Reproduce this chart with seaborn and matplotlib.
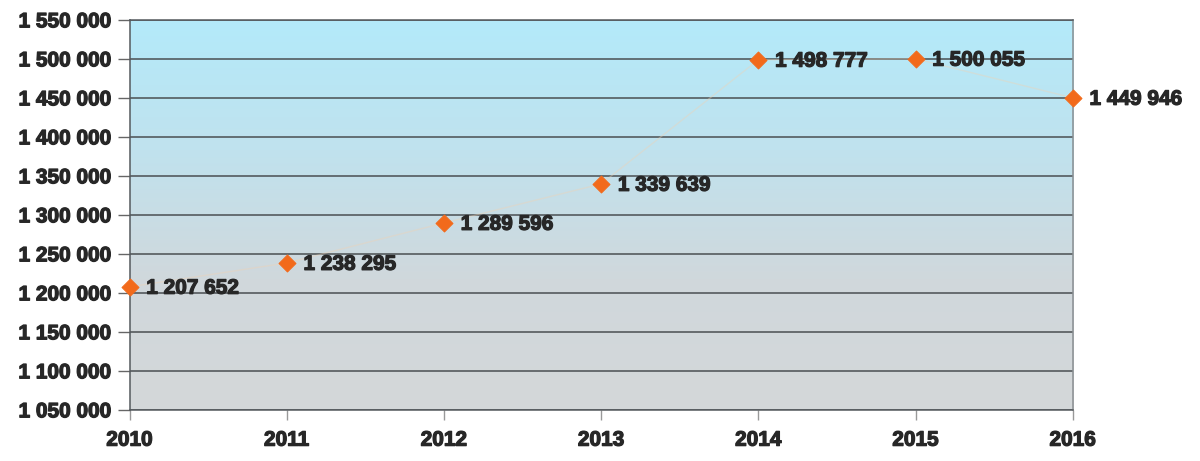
import numpy as np
import pandas as pd
import matplotlib
matplotlib.use("Agg")
import matplotlib.pyplot as plt
import matplotlib.patheffects as pe
import seaborn as sns
from matplotlib.colors import LinearSegmentedColormap

years = [2010, 2011, 2012, 2013, 2014, 2015, 2016]
values = [1207652, 1238295, 1289596, 1339639, 1498777, 1500055, 1449946]
y_ticks = [1050000, 1100000, 1150000, 1200000, 1250000, 1300000,
           1350000, 1400000, 1450000, 1500000, 1550000]

df = pd.DataFrame({"year": years, "value": values})

sns.set_theme(style="white")
plt.rcParams["font.family"] = ["Liberation Sans", "DejaVu Sans"]

TEXT = "#272727"
heavy = [pe.withStroke(linewidth=0.9, foreground=TEXT)]


def fmt(v):
    return f"{v:,}".replace(",", " ")


fig = plt.figure(figsize=(12, 4.61), dpi=100)
ax = fig.add_axes([0.108, 0.111, 0.786, 0.846])

ax.set_xlim(2010, 2016)
ax.set_ylim(1050000, 1550000)

# vertical background gradient: light cyan at top fading to grey at bottom
grad = LinearSegmentedColormap.from_list(
    "bg", ["#d4d7d9", "#d0d8dc", "#c0e2ee", "#b3eafa"])
g = np.linspace(0, 1, 256).reshape(-1, 1)
ax.imshow(g, cmap=grad, aspect="auto", origin="lower",
          extent=[2010, 2016, 1050000, 1550000], zorder=0)

for t in y_ticks:
    ax.axhline(t, color="#4a4f52", lw=1.1, zorder=1)

sns.lineplot(data=df, x="year", y="value", ax=ax, color="#f0d2b4",
             lw=1.0, alpha=0.4, zorder=2, legend=False)
sns.scatterplot(data=df, x="year", y="value", ax=ax, marker="D",
                s=75, color="#f26a1b", edgecolor="#f26a1b",
                zorder=4, legend=False, clip_on=False)

for x, v in zip(years, values):
    ax.annotate(fmt(v), (x, v), xytext=(12, -1), textcoords="offset points",
                ha="left", va="center", fontsize=15, fontweight="bold",
                color=TEXT, zorder=5, annotation_clip=False,
                path_effects=heavy)

ax.set_yticks(y_ticks)
ax.set_yticklabels([fmt(t) for t in y_ticks])
ax.set_xticks(years)
ax.set_xticklabels([str(y) for y in years])
ax.tick_params(axis="y", left=True, length=9, width=1, color="#666666",
               labelsize=15, labelcolor=TEXT, pad=4)
ax.tick_params(axis="x", bottom=True, length=7, width=1, color="#999999",
               labelsize=15, labelcolor=TEXT, pad=8)
for lab in ax.get_xticklabels() + ax.get_yticklabels():
    lab.set_fontweight("bold")
    lab.set_path_effects(heavy)

ax.set_xlabel("")
ax.set_ylabel("")
for side in ["left", "bottom", "right", "top"]:
    ax.spines[side].set_visible(True)
    ax.spines[side].set_color("#555a5e")
    ax.spines[side].set_linewidth(1.1)
ax.spines["right"].set_color("#8a8f92")

fig.savefig("out.png", dpi=100, facecolor="white")
